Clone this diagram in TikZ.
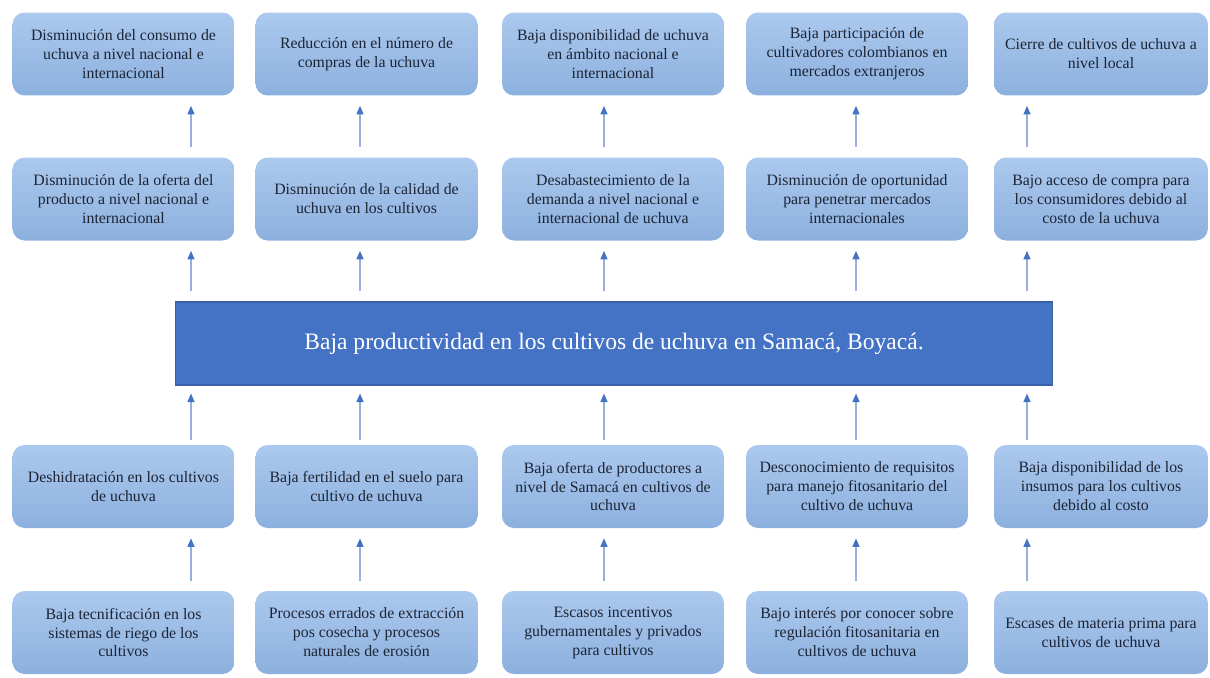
\documentclass[tikz,border=0pt]{standalone}
\usepackage{fontspec}
\setmainfont{Liberation Serif}
\usetikzlibrary{arrows.meta}
\definecolor{boxtop}{RGB}{172,201,238}
\definecolor{boxbot}{RGB}{140,176,222}
\definecolor{bartone}{RGB}{68,114,196}
\definecolor{arrowline}{RGB}{150,176,222}
\definecolor{boxtext}{RGB}{28,36,52}
\tikzstyle{cajita} = [rectangle, rounded corners=0.24cm, minimum width=4.44cm, minimum height=1.66cm, align=center, top color=boxtop, bottom color=boxbot, draw=none, text=boxtext, font=\fontsize{9}{10.8}\selectfont]
\tikzstyle{problema} = [rectangle, minimum width=17.56cm, minimum height=1.66cm, align=center, fill=bartone, draw=bartone!85!black, line width=0.6pt, text=white, font=\fontsize{13.4}{16}\selectfont]
\tikzstyle{arrow} = [draw=arrowline, line width=0.7pt, -{Triangle[length=0.17cm, width=0.14cm, color=bartone]}, shorten <=0.2cm, shorten >=0.2cm]

\begin{document}
\begin{tikzpicture}[x=0.02cm, y=-0.02cm]
			\useasboundingbox (0,0) rectangle (1210,677);
			% efectos indirectos
			\node (ei1) [cajita] at (123.5,54) {Disminución del consumo de\\uchuva a nivel nacional e\\internacional};
			\node (ei2) [cajita] at (366.5,54) {Reducción en el número de\\compras de la uchuva};
			\node (ei3) [cajita] at (613,54) {Baja disponibilidad de uchuva\\en ámbito nacional e\\internacional};
			\node (ei4) [cajita] at (857,54) {Baja participación de\\cultivadores colombianos en\\mercados extranjeros};
			\node (ei5) [cajita, minimum width=4.28cm] at (1101,54) {Cierre de cultivos de uchuva a\\nivel local};
			% efectos directos
			\node (ed1) [cajita] at (123.5,199) {Disminución de la oferta del\\producto a nivel nacional e\\internacional};
			\node (ed2) [cajita] at (366.5,199) {Disminución de la calidad de\\uchuva en los cultivos};
			\node (ed3) [cajita] at (613,199) {Desabastecimiento de la\\demanda a nivel nacional e\\internacional de uchuva};
			\node (ed4) [cajita] at (857,199) {Disminución de oportunidad\\para penetrar mercados\\internacionales};
			\node (ed5) [cajita, minimum width=4.28cm] at (1101,199) {Bajo acceso de compra para\\los consumidores debido al\\costo de la uchuva};
			% problema central
			\node (prob) [problema] at (614,343.5) {Baja productividad en los cultivos de uchuva en Samacá, Boyacá.};
			% causas directas
			\node (cd1) [cajita] at (123.5,486.5) {Deshidratación en los cultivos\\de uchuva};
			\node (cd2) [cajita] at (366.5,486.5) {Baja fertilidad en el suelo para\\cultivo de uchuva};
			\node (cd3) [cajita] at (613,486.5) {Baja oferta de productores a\\nivel de Samacá en cultivos de\\uchuva};
			\node (cd4) [cajita] at (857,486.5) {Desconocimiento de requisitos\\para manejo fitosanitario del\\cultivo de uchuva};
			\node (cd5) [cajita, minimum width=4.28cm] at (1101,486.5) {Baja disponibilidad de los\\insumos para los cultivos\\debido al costo};
			% causas indirectas
			\node (ci1) [cajita] at (123.5,632.5) {Baja tecnificación en los\\sistemas de riego de los\\cultivos};
			\node (ci2) [cajita] at (366.5,632.5) {Procesos errados de extracción\\pos cosecha y procesos\\naturales de erosión};
			\node (ci3) [cajita] at (613,632.5) {Escasos incentivos\\gubernamentales y privados\\para cultivos};
			\node (ci4) [cajita] at (857,632.5) {Bajo interés por conocer sobre\\regulación fitosanitaria en\\cultivos de uchuva};
			\node (ci5) [cajita, minimum width=4.28cm] at (1101,632.5) {Escases de materia prima para\\cultivos de uchuva};
			% columnas de las flechas
			\coordinate (x1) at (191,0);
			\coordinate (x2) at (360,0);
			\coordinate (x3) at (604,0);
			\coordinate (x4) at (856,0);
			\coordinate (x5) at (1027,0);
			
			\draw [arrow] (ed1.north -| x1) -- (ei1.south -| x1);
			\draw [arrow] (ed2.north -| x2) -- (ei2.south -| x2);
			\draw [arrow] (ed3.north -| x3) -- (ei3.south -| x3);
			\draw [arrow] (ed4.north -| x4) -- (ei4.south -| x4);
			\draw [arrow] (ed5.north -| x5) -- (ei5.south -| x5);
			
			\draw [arrow] (prob.north -| x1) -- (ed1.south -| x1);
			\draw [arrow] (prob.north -| x2) -- (ed2.south -| x2);
			\draw [arrow] (prob.north -| x3) -- (ed3.south -| x3);
			\draw [arrow] (prob.north -| x4) -- (ed4.south -| x4);
			\draw [arrow] (prob.north -| x5) -- (ed5.south -| x5);
			
			\draw [arrow, shorten <=0.1cm, shorten >=0.16cm] (cd1.north -| x1) -- (prob.south -| x1);
			\draw [arrow, shorten <=0.1cm, shorten >=0.16cm] (cd2.north -| x2) -- (prob.south -| x2);
			\draw [arrow, shorten <=0.1cm, shorten >=0.16cm] (cd3.north -| x3) -- (prob.south -| x3);
			\draw [arrow, shorten <=0.1cm, shorten >=0.16cm] (cd4.north -| x4) -- (prob.south -| x4);
			\draw [arrow, shorten <=0.1cm, shorten >=0.16cm] (cd5.north -| x5) -- (prob.south -| x5);
			
			\draw [arrow] (ci1.north -| x1) -- (cd1.south -| x1);
			\draw [arrow] (ci2.north -| x2) -- (cd2.south -| x2);
			\draw [arrow] (ci3.north -| x3) -- (cd3.south -| x3);
			\draw [arrow] (ci4.north -| x4) -- (cd4.south -| x4);
			\draw [arrow] (ci5.north -| x5) -- (cd5.south -| x5);
		\end{tikzpicture}
\end{document}
